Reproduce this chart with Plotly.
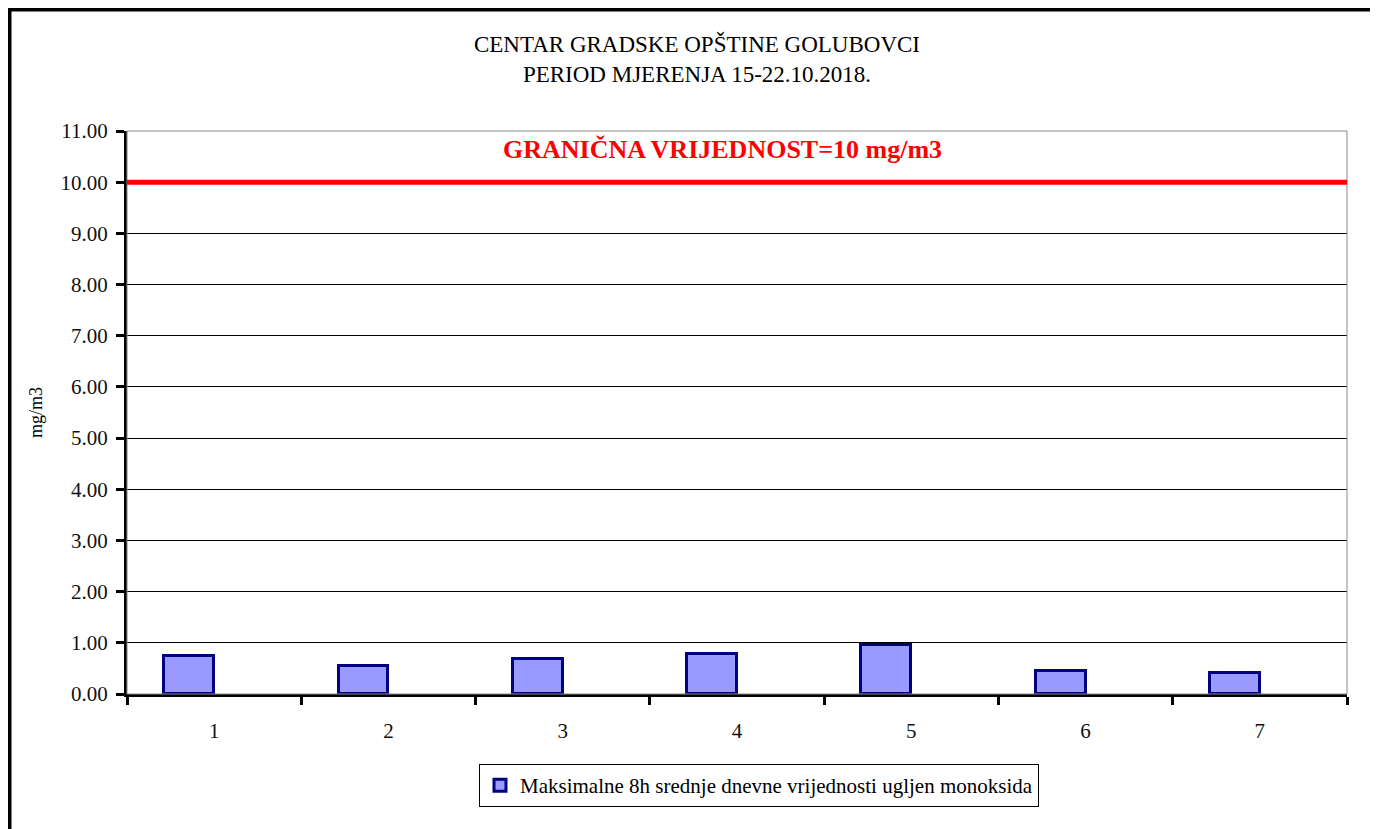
import plotly.graph_objects as go

categories = ["1", "2", "3", "4", "5", "6", "7"]
co_values = [0.74, 0.55, 0.69, 0.78, 0.95, 0.45, 0.41]
limit_value = 10
y_ticks = [0, 1, 2, 3, 4, 5, 6, 7, 8, 9, 10, 11]
y_tick_labels = [f"{v:.2f}" for v in y_ticks]
series_name = "Maksimalne 8h srednje dnevne vrijednosti ugljen monoksida"
title_lines = ["CENTAR GRADSKE OPŠTINE GOLUBOVCI", "PERIOD MJERENJA 15-22.10.2018."]
limit_label = "GRANIČNA VRIJEDNOST=10 mg/m3"

SERIF = "Liberation Serif, Times New Roman, serif"

OFF = 8  # page body margin
W, H = 1378, 829
# desired plot area in page pixels: x 127..1347, y 131..694
L = 127 - OFF
R = W - (1347 - OFF)
T = 131 - OFF
B = H - (694 - OFF)
pw, ph = W - L - R, H - T - B

def px_x(x):
    return (x - OFF - L) / pw

def px_y(y):
    return (H - B - (y - OFF)) / ph

fig = go.Figure()
fig.add_trace(go.Bar(
    x=categories, y=co_values, name=series_name,
    width=0.286, offset=-0.286,
    marker=dict(color="#9999FF", line=dict(color="#000080", width=3)),
    showlegend=True,
))

fig.update_layout(
    width=W, height=H,
    margin=dict(l=L, r=R, t=T, b=B),
    paper_bgcolor="white", plot_bgcolor="white",
    font=dict(family=SERIF, color="black", size=16),
    title=dict(text="<br>".join(title_lines), x=0.5, xanchor="center",
               y=1 - 44 / H, yanchor="top",
               font=dict(family=SERIF, size=23, color="black")),
    xaxis=dict(type="category", tickson="boundaries", ticks="outside",
               ticklen=8, tickwidth=3, tickcolor="black",
               showline=True, linewidth=3, linecolor="black",
               showgrid=False, tickfont=dict(size=21, color="#111111"),
               ticklabelstandoff=16),
    yaxis=dict(range=[0, 11], tickvals=y_ticks, ticktext=y_tick_labels,
               ticks="outside", ticklen=8, tickwidth=3, tickcolor="black",
               showline=True, linewidth=3, linecolor="black",
               showgrid=True, gridcolor="black", gridwidth=1,
               zeroline=False, tickfont=dict(size=21, color="#111111"),
               ticklabelstandoff=4,
               title=dict(text="mg/m3", font=dict(size=18, color="black"),
                          standoff=14)),
    legend=dict(orientation="h", x=px_x(759), xanchor="center",
                y=px_y(764), yanchor="top",
                bordercolor="black", borderwidth=1,
                font=dict(size=21, color="black"), bgcolor="white"),
    bargap=0.0,
)

# plot area border (gray)
fig.add_shape(type="rect", xref="paper", yref="paper", x0=0, x1=1, y0=0, y1=1,
              line=dict(color="#888888", width=1), layer="above")
# limit line
fig.add_shape(type="line", xref="paper", yref="y", x0=0, x1=1,
              y0=limit_value, y1=limit_value,
              line=dict(color="#FF0000", width=5), layer="above")
# outer frame
fig.add_shape(type="rect", xref="paper", yref="paper",
              x0=px_x(9.5), x1=px_x(1373), y0=px_y(860), y1=px_y(9.5),
              line=dict(color="black", width=4), layer="above")

fig.add_annotation(text=f"<b>{limit_label}</b>", xref="paper", yref="y",
                   x=px_x(722), y=limit_value + 0.63, showarrow=False,
                   font=dict(family=SERIF, size=26, color="#FF0000"))

fig.write_html("out.html")
